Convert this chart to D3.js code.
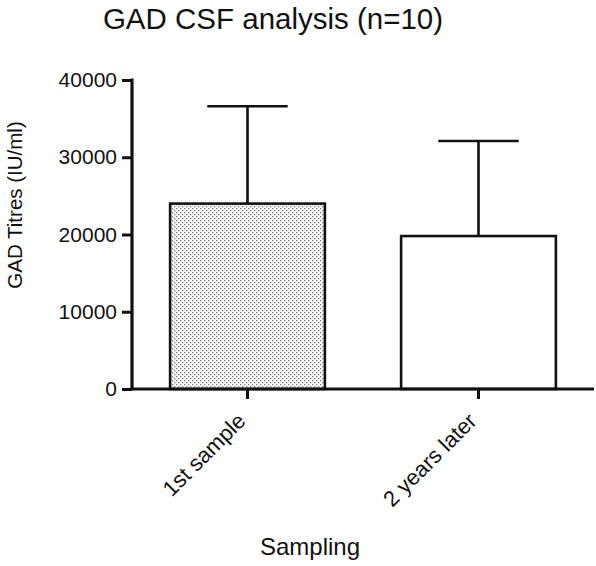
<!DOCTYPE html>
<html><head><meta charset="utf-8">
<script src="https://cdn.jsdelivr.net/npm/d3@7"></script>
<style>body{margin:0;background:#fff}svg{display:block}text{font-family:"Liberation Sans",Arial,Helvetica,sans-serif;fill:#111}</style>
</head><body>
<script>
const categories = ["1st sample", "2 years later"];
const means = [24000, 19800];
const errors = [12600, 12300];
const yTicks = [0, 10000, 20000, 30000, 40000];
const patterned = [true, false];

const W = 596, H = 566;
const svg = d3.select("body").append("svg").attr("width", W).attr("height", H);
const defs = svg.append("defs");
const pat = defs.append("pattern").attr("id","dots").attr("patternUnits","userSpaceOnUse").attr("width",4).attr("height",4);
pat.append("rect").attr("width",4).attr("height",4).attr("fill","#fff");
pat.append("rect").attr("x",0).attr("y",0).attr("width",1.3).attr("height",1.3).attr("fill","#777");
pat.append("rect").attr("x",2).attr("y",2).attr("width",1.3).attr("height",1.3).attr("fill","#777");

const x = d3.scaleBand().domain(categories).range([132, 594]).paddingInner(0.33).paddingOuter(0.165);
const y = d3.scaleLinear().domain([0, 40000]).range([389, 80]);

// bars
const g = svg.append("g");
categories.forEach((c, i) => {
  const cx = x(c) + x.bandwidth()/2;
  const capHalf = x.bandwidth()*0.26;
  g.append("line").attr("x1",cx).attr("x2",cx).attr("y1",y(means[i])).attr("y2",y(means[i]+errors[i]))
    .attr("stroke","#111").attr("stroke-width",2.6);
  g.append("line").attr("x1",cx-capHalf).attr("x2",cx+capHalf).attr("y1",y(means[i]+errors[i])).attr("y2",y(means[i]+errors[i]))
    .attr("stroke","#111").attr("stroke-width",2.6);
  g.append("rect").attr("x",x(c)).attr("y",y(means[i])).attr("width",x.bandwidth()).attr("height",y(0)-y(means[i]))
    .attr("fill", patterned[i] ? "url(#dots)" : "#fff").attr("stroke","#111").attr("stroke-width",2.6);
});

// y axis
const ya = svg.append("g").attr("transform","translate(132,0)")
  .call(d3.axisLeft(y).tickValues(yTicks).tickFormat(d3.format("d")).tickSize(10).tickSizeOuter(0).tickPadding(5));
ya.select(".domain").attr("stroke","#111").attr("stroke-width",3.2).attr("d","M0,78.5V389");
ya.selectAll(".tick line").attr("stroke","#111").attr("stroke-width",3);
ya.selectAll(".tick text").style("font-size","21px").attr("fill","#111");

// x axis
const xa = svg.append("g").attr("transform","translate(0,389)")
  .call(d3.axisBottom(x).tickSize(10).tickSizeOuter(0).tickPadding(8));
xa.select(".domain").attr("stroke","#111").attr("stroke-width",3.2).attr("d","M130.5,0H594");
xa.selectAll(".tick line").attr("stroke","#111").attr("stroke-width",3);
xa.selectAll(".tick text").style("font-size","22px").attr("fill","#111")
  .attr("text-anchor","end").attr("x",0).attr("y",0).attr("dy","0.35em")
  .attr("transform","translate(-6,28) rotate(-45)");

// titles
svg.append("text").attr("x",273).attr("y",29).attr("text-anchor","middle").style("font-size","29.5px").text("GAD CSF analysis (n=10)");
svg.append("text").attr("transform","translate(22,205) rotate(-90)").attr("text-anchor","middle").style("font-size","20.5px").text("GAD Titres (IU/ml)");
svg.append("text").attr("x",310).attr("y",555).attr("text-anchor","middle").style("font-size","24px").text("Sampling");
</script>
</body></html>
